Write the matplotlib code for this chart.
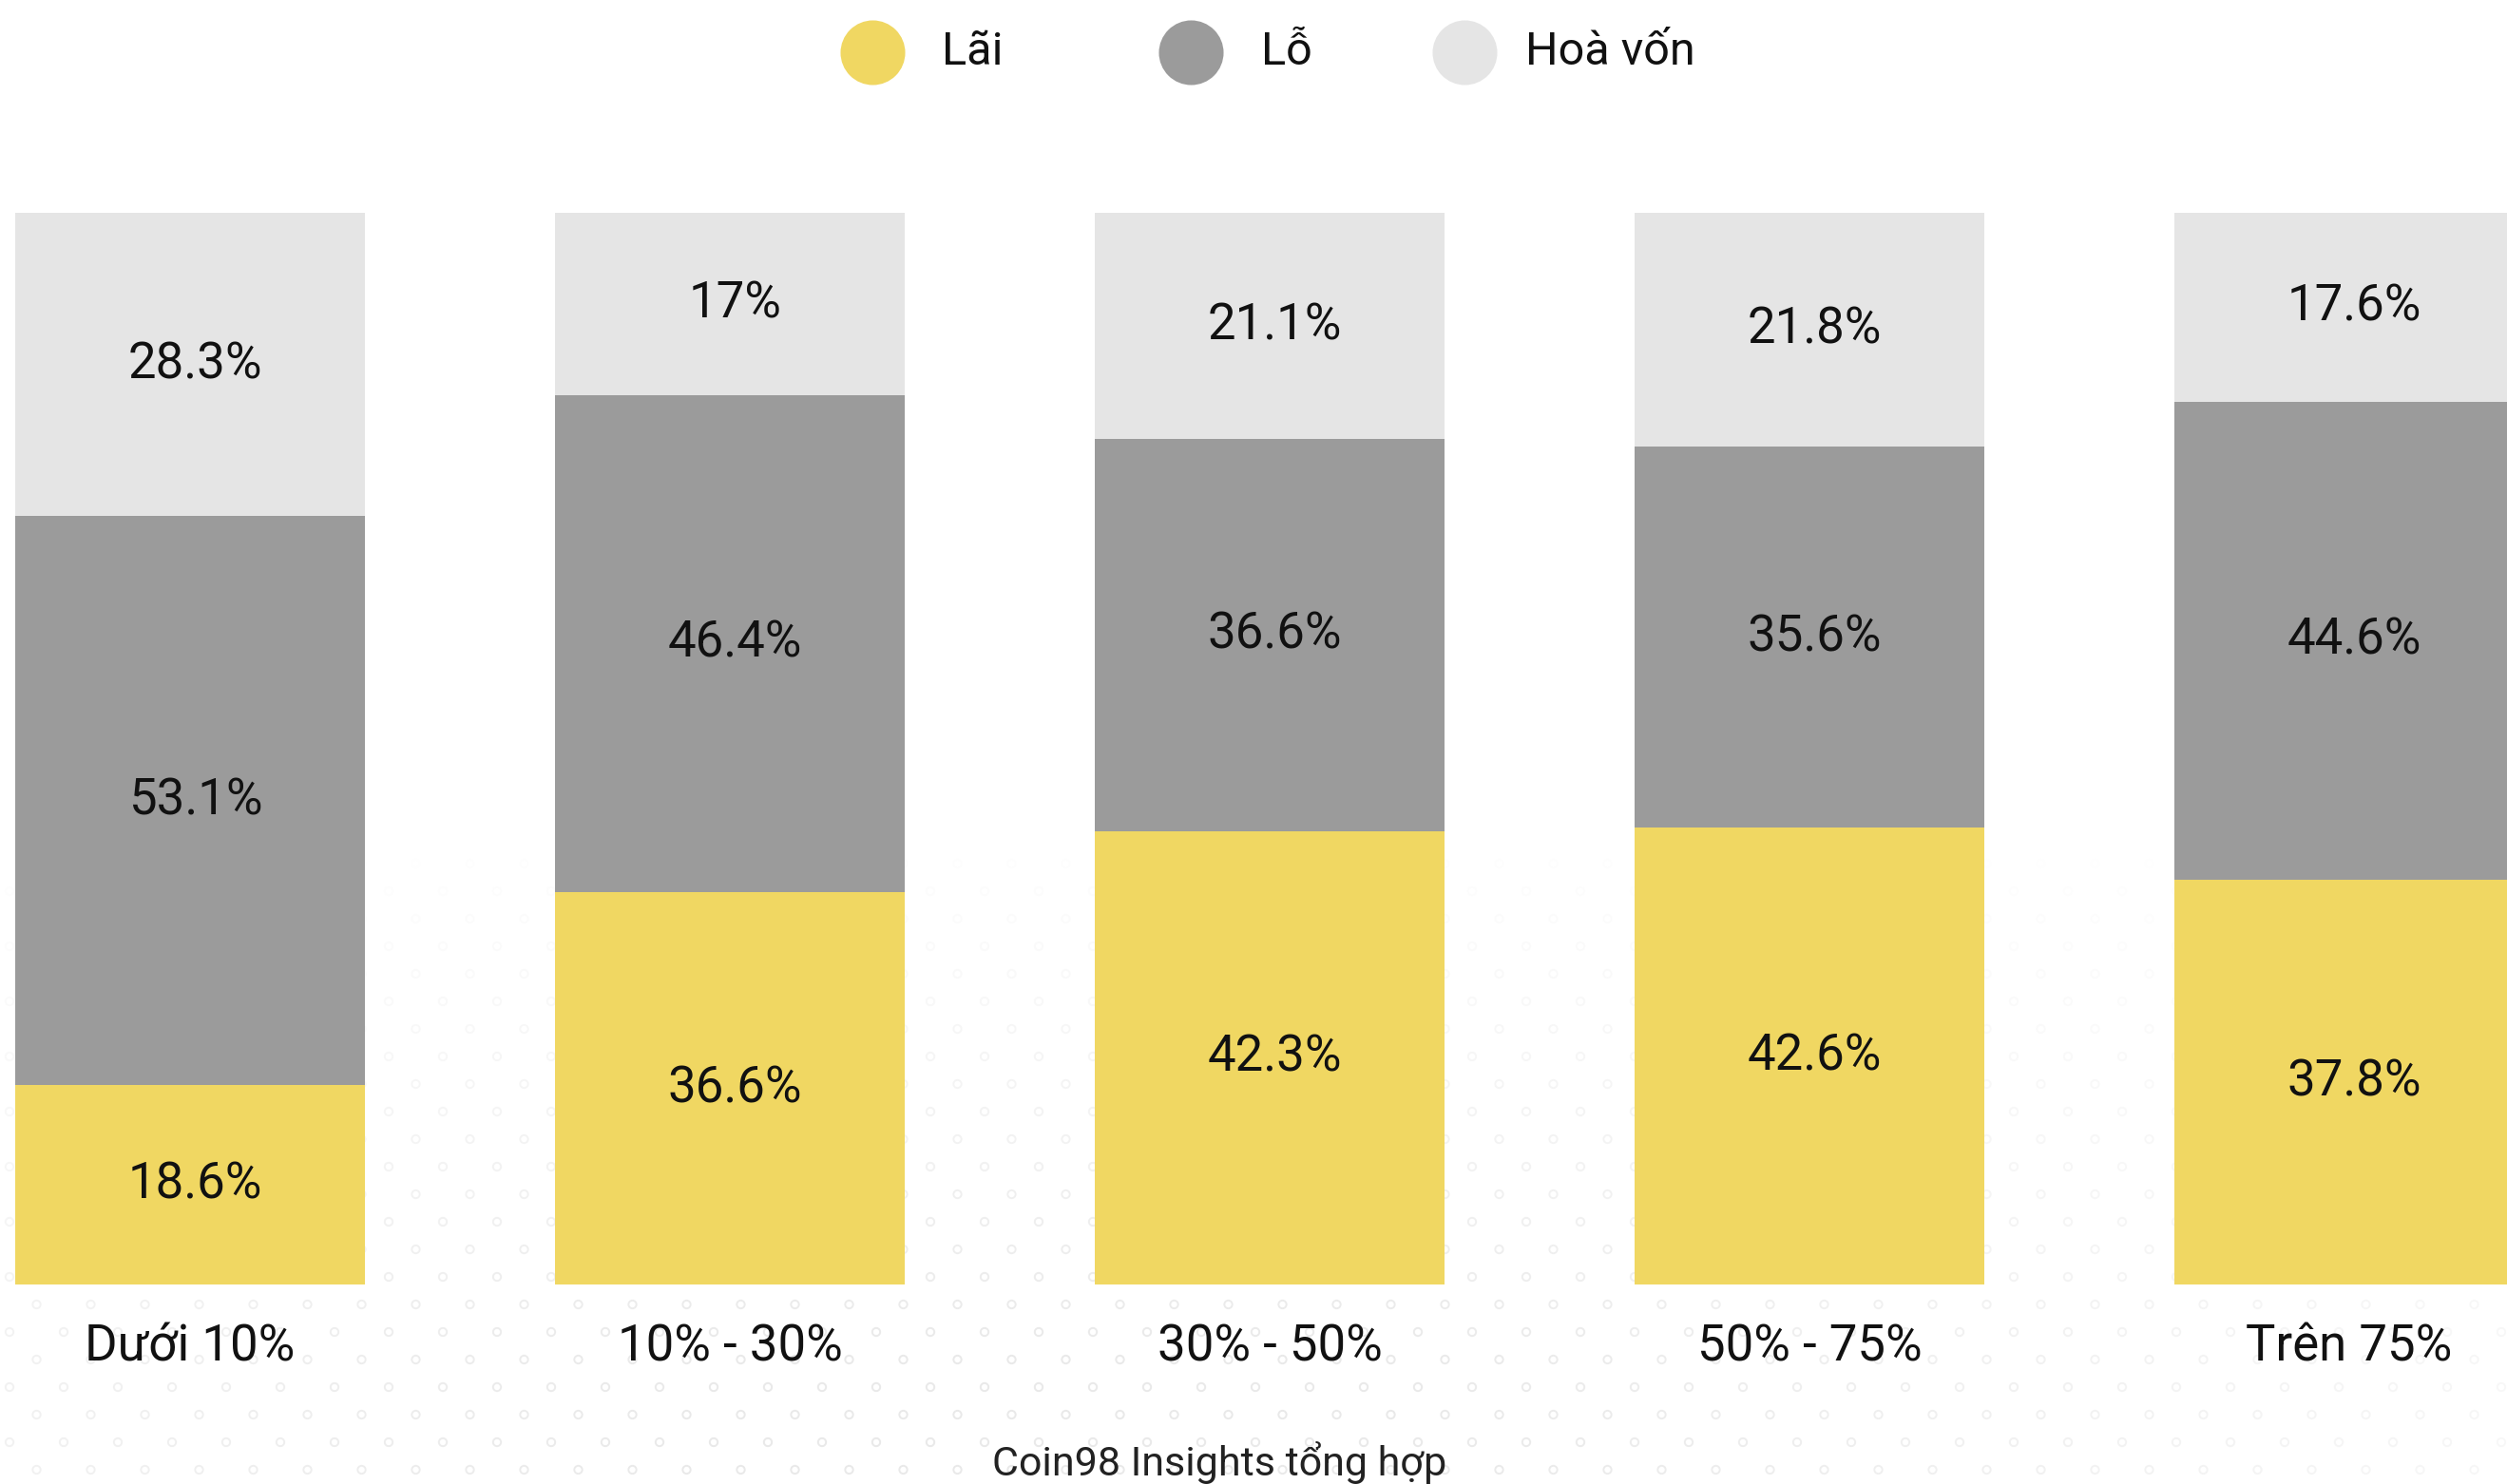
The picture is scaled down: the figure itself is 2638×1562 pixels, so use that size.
import numpy as np
import matplotlib.pyplot as plt
from matplotlib.colors import to_rgba

plt.rcParams['font.family'] = ['Roboto', 'DejaVu Sans']

# =========================
# DATA
# =========================
categories = ["Dưới 10%", "10% - 30%", "30% - 50%", "50% - 75%", "Trên 75%"]
lai = [18.6, 36.6, 42.3, 42.6, 37.8]
lo = [53.1, 46.4, 36.6, 35.6, 44.6]
hoa_von = [28.3, 17.0, 21.1, 21.8, 17.6]

series_names = ["Lãi", "Lỗ", "Hoà vốn"]
colors = ["#F0D762", "#9B9B9B", "#E5E5E5"]
source_text = "Coin98 Insights tổng hợp"

# =========================
# FIGURE
# =========================
W, H = 2638, 1562
DPI = 200
fig = plt.figure(figsize=(W / DPI, H / DPI), dpi=DPI)
fig.patch.set_facecolor("white")

# faint dotted background pattern (decoration)
bg = fig.add_axes([0, 0, 1, 1], zorder=0)
bg.set_xlim(0, W)
bg.set_ylim(H, 0)
bg.axis("off")
gx, gy = [], []
for r, yy in enumerate(np.arange(880, H + 10, 29)):
    off = 0 if r % 2 == 0 else 28.5
    for xx in np.arange(10 + off, W, 57):
        gx.append(xx)
        gy.append(yy)
gx = np.array(gx)
gy = np.array(gy)
fade = np.clip((gy - 880) / 550, 0, 1) * np.clip(1.2 - np.abs(gx - 1100) / 1800, 0, 1)
ec = [to_rgba("#e9e9e9", min(a, 1.0)) for a in fade]
bg.scatter(gx, gy, s=9, facecolors="none", edgecolors=ec, linewidths=0.7)

# bar axes: map pixel space -> data
bar_px0 = 200.0     # centre of first bar (px)
step_px = 568.0     # distance between bar centres (px)
bottom_px, top_px = 1352.0, 224.0
ppu = (bottom_px - top_px) / 100.0

ax = fig.add_axes([0, 0, 1, 1], zorder=1)
ax.patch.set_alpha(0)
ax.set_xlim((0 - bar_px0) / step_px, (W - bar_px0) / step_px)
ax.set_ylim(-(H - bottom_px) / ppu, 100 + top_px / ppu)
ax.axis("off")

x = np.arange(len(categories))
width = 368 / step_px

bottoms = np.zeros(len(categories))
for vals, col in zip([lai, lo, hoa_von], colors):
    vals = np.array(vals)
    ax.bar(x, vals, width=width, bottom=bottoms, color=col, linewidth=0)
    for xi, b, v in zip(x, bottoms, vals):
        ax.text(xi + 0.01, b + v / 2, f"{v:g}%", ha="center", va="center",
                fontsize=19, color="#111111")
    bottoms += vals

# category labels
for xi, cat in zip(x, categories):
    ax.text(xi, -(1418 - bottom_px) / ppu, cat, ha="center", va="center",
            fontsize=19, color="#111111")

# legend (manual)
leg_y = 1 - 55 / H
circle_px = [918, 1253, 1541]
text_px = [991, 1327, 1605]
for cx, tx, name, col in zip(circle_px, text_px, series_names, colors):
    fig.add_artist(plt.Line2D([cx / W], [leg_y], marker="o", markersize=23.5,
                              color=col, linestyle="none",
                              transform=fig.transFigure))
    fig.text(tx / W, leg_y, name, ha="left", va="center",
             fontsize=17.5, color="#111111")

# source
fig.text(1283 / W, 1 - 1540 / H, source_text, ha="center", va="center",
         fontsize=15.5, color="#222222")

fig.savefig("out.png", dpi=DPI, facecolor="white")
